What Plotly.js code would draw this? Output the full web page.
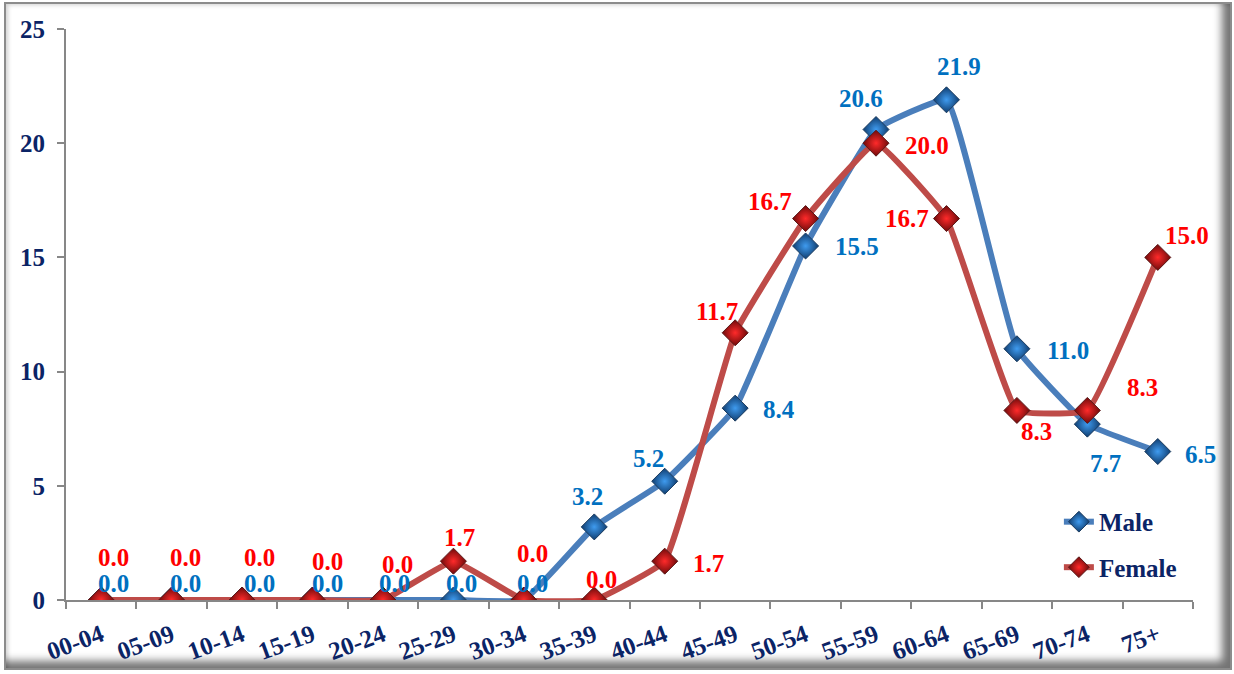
<!DOCTYPE html>
<html>
<head>
<meta charset="utf-8">
<script src="https://cdn.plot.ly/plotly-3.0.1.min.js"></script>
<style>
  html, body { margin: 0; padding: 0; background: #ffffff; }
  #frame {
    position: absolute; left: 4px; top: 2px; width: 1228px; height: 668px;
    box-sizing: border-box; border: 2px solid #8c8c8c;
    box-shadow: inset -13px -12px 9px -5px rgba(0,0,0,0.55), inset 4px 3px 4px -2px rgba(0,0,0,0.18);
    background: #ffffff;
  }
  #chart { position: absolute; left: 0; top: 0; width: 1234px; height: 674px; }
</style>
</head>
<body>
<div id="frame"></div>
<div id="chart"></div>
<script>
// ---- data ----
const categories = ['00-04','05-09','10-14','15-19','20-24','25-29','30-34','35-39',
                    '40-44','45-49','50-54','55-59','60-64','65-69','70-74','75+'];
const male   = [0.0, 0.0, 0.0, 0.0, 0.0, 0.0, 0.0, 3.2, 5.2, 8.4, 15.5, 20.6, 21.9, 11.0, 7.7, 6.5];
const female = [0.0, 0.0, 0.0, 0.0, 0.0, 1.7, 0.0, 0.0, 1.7, 11.7, 16.7, 20.0, 16.7, 8.3, 8.3, 15.0];
const yTicks = [0, 5, 10, 15, 20, 25];

// ---- label placement (pixel offsets from each point: [dx, dy], dy down) ----
const maleLabelOffsets = [[12,-17],[14,-17],[17,-17],[15,-17],[12,-17],[8,-17],[9,-17],
  [-7,-30],[-16,-23],[44,1],[51,1],[-15,-31],[13,-33],[51,2],[18,39],[43,3]];
const femaleLabelOffsets = [[12,-43],[14,-43],[17,-43],[15,-39],[15,-36],[6,-24],[9,-47],
  [7,-21],[44,2],[-18,-21],[-36,-17],[51,2],[-39,0],[20,21],[55,-23],[29,-22]];

const FONT = '"Liberation Serif", "Times New Roman", serif';
const NAVY = '#0B2466';
const MALE_LABEL = '#0070C0';
const FEMALE_LABEL = '#FF0000';

function labels(values, offsets, color) {
  return values.map((v, i) => ({
    x: categories[i], y: v, xref: 'x', yref: 'y',
    text: v.toFixed(1), showarrow: false,
    xanchor: 'center', yanchor: 'middle',
    xshift: offsets[i][0], yshift: -offsets[i][1],
    font: { family: FONT, size: 25, color: color, weight: 'bold' }
  }));
}

const traces = [
  {
    type: 'scatter', mode: 'lines+markers', name: 'Male',
    x: categories, y: male, legendgroup: 'm',
    line: { color: '#4A7EBB', width: 6, shape: 'spline', smoothing: 0.3 },
    marker: { symbol: 'diamond', size: 20, color: '#0F3D70',
              gradient: { type: 'radial', color: '#3F9BEF' },
              line: { color: '#1B3B5E', width: 1 } }
  },
  {
    type: 'scatter', mode: 'lines+markers', name: 'Female',
    x: categories, y: female, legendgroup: 'f',
    line: { color: '#BE4B48', width: 6, shape: 'spline', smoothing: 0.3 },
    marker: { symbol: 'diamond', size: 20, color: '#6E0A0A',
              gradient: { type: 'radial', color: '#FF2A2A' },
              line: { color: '#5A1818', width: 1 } }
  }
];

const layout = {
  width: 1234, height: 674,
  margin: { l: 66, r: 41, t: 29, b: 74, pad: 0 },
  paper_bgcolor: 'rgba(0,0,0,0)', plot_bgcolor: 'rgba(0,0,0,0)',
  font: { family: FONT, color: NAVY },
  showlegend: true,
  legend: {
    x: 0.881, y: 0.177, xanchor: 'left', yanchor: 'top',
    bgcolor: 'rgba(0,0,0,0)', traceorder: 'grouped', tracegroupgap: 10,
    font: { family: FONT, size: 25, color: NAVY, weight: 'bold' }
  },
  xaxis: {
    type: 'category', range: [-0.5, 15.5], fixedrange: true,
    showline: true, linecolor: '#878787', linewidth: 2,
    ticks: 'outside', ticklen: 7, tickcolor: '#878787', tickwidth: 2,
    tickson: 'boundaries', tickangle: -20, showgrid: false, zeroline: false,
    ticklabelstandoff: 9,
    tickfont: { family: FONT, size: 25, color: NAVY, weight: 'bold' }
  },
  yaxis: {
    range: [0, 25], tickvals: yTicks, ticktext: yTicks.map(String),
    showline: true, linecolor: '#878787', linewidth: 2,
    ticks: 'outside', ticklen: 7, tickcolor: '#878787', tickwidth: 2,
    showgrid: false, zeroline: false, ticklabelstandoff: 7,
    tickfont: { family: FONT, size: 25, color: NAVY, weight: 'bold' }
  },
  annotations: labels(male, maleLabelOffsets, MALE_LABEL)
    .concat(labels(female, femaleLabelOffsets, FEMALE_LABEL))
};

Plotly.newPlot('chart', traces, layout, { staticPlot: true, displayModeBar: false });
</script>
</body>
</html>
